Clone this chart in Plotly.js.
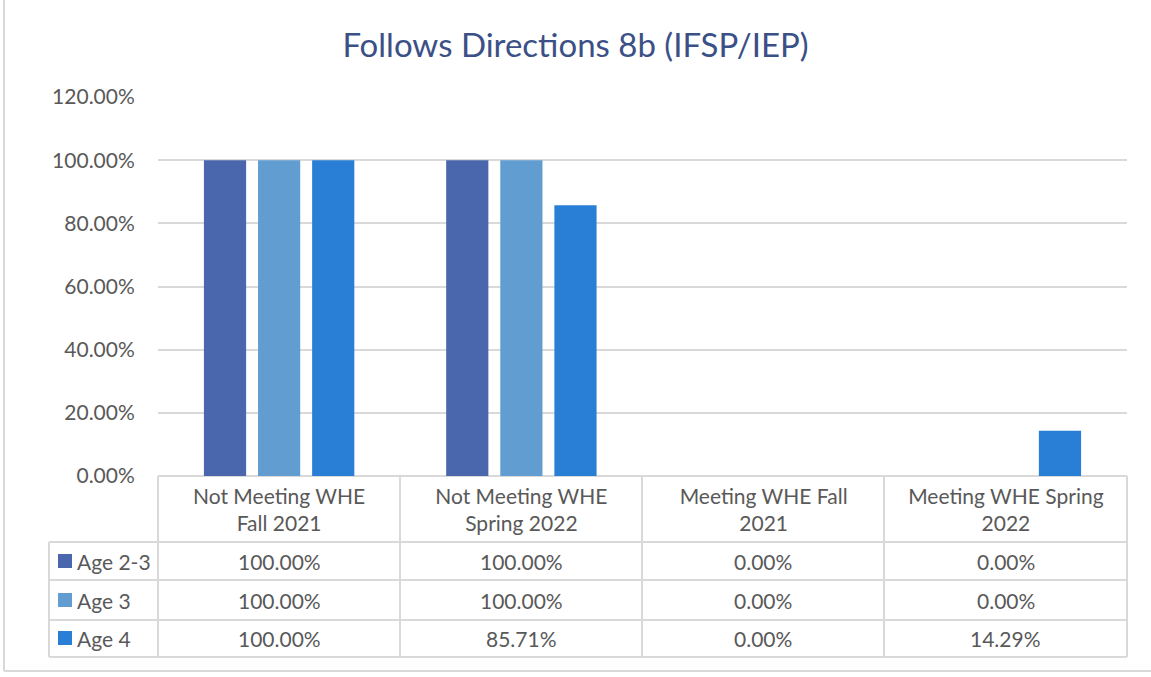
<!DOCTYPE html>
<html><head><meta charset="utf-8">
<script src="https://cdn.plot.ly/plotly-3.0.1.min.js"></script>
<style>html,body{margin:0;padding:0;background:#fff;}</style>
</head><body>
<div id="chart" style="width:1151px;height:677px;"></div>
<script>
const categories = ["Not Meeting WHE Fall 2021", "Not Meeting WHE Spring 2022", "Meeting WHE Fall 2021", "Meeting WHE Spring 2022"];
const tickLabels = ["Not Meeting WHE<br>Fall 2021", "Not Meeting WHE<br>Spring 2022", "Meeting WHE Fall<br>2021", "Meeting WHE Spring<br>2022"];
const seriesNames = ["Age 2-3", "Age 3", "Age 4"];
const age23 = [1.0, 1.0, 0.0, 0.0];
const age3 = [1.0, 1.0, 0.0, 0.0];
const age4 = [1.0, 0.8571, 0.0, 0.1429];
const seriesColors = ["#4A66AC", "#629DD1", "#297FD5"];
const yTicks = [0, 0.2, 0.4, 0.6, 0.8, 1.0, 1.2];

const W = 1151, H = 677;
const L = 158, R = 1127, T = 97, B = 476;
const FONT = "Lato, 'Noto Sans', sans-serif";
const FS = 21;
const TXT = "#595959";
const GRID = "#D9D9D9";
function px(x){ return (x - L) / (R - L); }
function py(y){ return (B - y) / (B - T); }

const allSeries = [age23, age3, age4];
const traces = allSeries.map((vals, i) => ({
  type: "bar", name: seriesNames[i], x: categories, y: vals,
  marker: {color: seriesColors[i], line: {width: 0}},
  hoverinfo: "none", showlegend: false
}));

const shapes = [];
const annotations = [];
// outer chart border
shapes.push({type:"line", xref:"paper", yref:"paper", x0:px(4), x1:px(4), y0:py(-5), y1:py(671), line:{color:GRID, width:2}});
shapes.push({type:"line", xref:"paper", yref:"paper", x0:px(4), x1:px(1160), y0:py(671), y1:py(671), line:{color:GRID, width:2}});
// table grid
const colEdges = [158, 400, 642, 884, 1127];
const rowEdges = [542, 580, 620, 657];
colEdges.forEach(x => shapes.push({type:"line", xref:"paper", yref:"paper", x0:px(x), x1:px(x), y0:py(476), y1:py(657), line:{color:GRID, width:2}}));
shapes.push({type:"line", xref:"paper", yref:"paper", x0:px(49), x1:px(49), y0:py(542), y1:py(657), line:{color:GRID, width:2}});
rowEdges.forEach(y => shapes.push({type:"line", xref:"paper", yref:"paper", x0:px(49), x1:px(1127), y0:py(y), y1:py(y), line:{color:GRID, width:2}}));

const rowCenters = [561, 600, 638];
allSeries.forEach((vals, r) => {
  const yc = rowCenters[r];
  shapes.push({type:"rect", xref:"paper", yref:"paper", x0:px(58), x1:px(72), y0:py(yc-7), y1:py(yc+7), fillcolor:seriesColors[r], line:{width:0}});
  annotations.push({xref:"paper", yref:"paper", x:px(75), y:py(yc), xanchor:"left", yanchor:"middle", text:seriesNames[r], showarrow:false, font:{family:FONT, size:FS, color:TXT}});
  vals.forEach((v, c) => {
    annotations.push({xref:"paper", yref:"paper", x:px((colEdges[c]+colEdges[c+1])/2), y:py(yc), xanchor:"center", yanchor:"middle",
      text:(v*100).toFixed(2)+"%", showarrow:false, font:{family:FONT, size:FS, color:TXT}});
  });
});

const layout = {
  width: W, height: H,
  margin: {l: L, r: W - R, t: T, b: H - B, pad: 0},
  paper_bgcolor: "#fff", plot_bgcolor: "#fff",
  title: {text: "Follows Directions 8b (IFSP/IEP)", x: 0.5, xref: "container", xanchor: "center", y: 1 - 45/H, yanchor: "middle",
          font: {family: FONT, size: 33, color: "#3B5087"}},
  barmode: "group", bargap: 0.33, bargroupgap: 0.22,
  xaxis: {type: "category", tickvals: categories, ticktext: tickLabels, showgrid: false, zeroline: false,
          showline: false, ticks: "", ticklabelstandoff: 6, tickfont: {family: FONT, size: FS, color: TXT}, fixedrange: true, automargin: false},
  yaxis: {range: [0, 1.2], tickvals: yTicks, tickformat: ".2%", showgrid: true, gridcolor: GRID, gridwidth: 2,
          zeroline: true, zerolinecolor: GRID, zerolinewidth: 2, showline: false, ticks: "outside", ticklen: 18, tickcolor: "rgba(0,0,0,0)",
          tickfont: {family: FONT, size: FS, color: TXT}, fixedrange: true, automargin: false},
  shapes: shapes, annotations: annotations, showlegend: false
};
Plotly.newPlot("chart", traces, layout, {displayModeBar: false, staticPlot: true});
</script>
</body></html>
